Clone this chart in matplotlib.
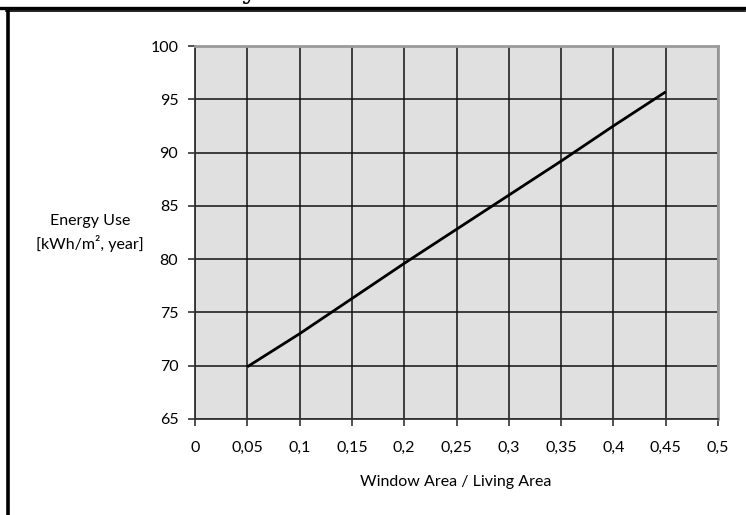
import matplotlib
matplotlib.use("Agg")
import matplotlib.pyplot as plt
from matplotlib.lines import Line2D

# data
ratio = [0.05, 0.10, 0.15, 0.20, 0.25, 0.30, 0.35, 0.40, 0.45]
energy = [69.9, 73.0, 76.3, 79.6, 82.8, 86.0, 89.2, 92.5, 95.7]
xticks = [0, 0.05, 0.1, 0.15, 0.2, 0.25, 0.3, 0.35, 0.4, 0.45, 0.5]
xlabels = ["0", "0,05", "0,1", "0,15", "0,2", "0,25", "0,3", "0,35", "0,4", "0,45", "0,5"]
yticks = [65, 70, 75, 80, 85, 90, 95, 100]

plt.rcParams['font.family'] = ['Lato', 'DejaVu Sans']
W, H = 746, 515
fig = plt.figure(figsize=(W / 100, H / 100), dpi=100)
ax = fig.add_axes([195 / W, 1 - 419 / H, (718 - 195) / W, (419 - 46) / H])

ax.set_facecolor('#e0e0e0')
ax.plot(ratio, energy, color='black', lw=2, solid_capstyle='butt', zorder=3)
ax.set_xlim(0, 0.5)
ax.set_ylim(65, 100)
ax.set_xticks(xticks)
ax.set_xticklabels(xlabels)
ax.set_yticks(yticks)
ax.grid(True, color='#111111', lw=1.1)
ax.set_axisbelow(True)
for s in ['top', 'right']:
    ax.spines[s].set_color('#9a9a9a')
    ax.spines[s].set_linewidth(2)
for s in ['left', 'bottom']:
    ax.spines[s].set_color('#333333')
    ax.spines[s].set_linewidth(1.3)
ax.tick_params(direction='out', length=5, width=1.1, colors='#222222',
               labelsize=11.5, labelcolor='black')
ax.tick_params(axis='x', pad=11)
ax.tick_params(axis='y', pad=7)

fig.text(90 / W, 1 - 233 / H, "Energy Use\n[kWh/m², year]", ha='center', va='center',
         fontsize=11.5, linespacing=1.45)
fig.text(456 / W, 1 - 482 / H, "Window Area / Living Area", ha='center', va='center',
         fontsize=11.5)

# frame around the chart (from the document it sits in)
fig.add_artist(Line2D([0, 745 / W], [1 - 7.5 / H] * 2, color='black', lw=2.4))
fig.add_artist(Line2D([6 / W, 745 / W], [1 - 11 / H] * 2, color='black', lw=1.2))
fig.add_artist(Line2D([7.5 / W] * 2, [1 - 10 / H, 0], color='black', lw=2.6))
# bottom of the cut-off title
fig.text(249 / W, 1 + 1 / H, "y", ha='center', va='baseline', fontsize=18,
         fontweight='bold', family='DejaVu Serif')

fig.savefig('out.png', dpi=100)
